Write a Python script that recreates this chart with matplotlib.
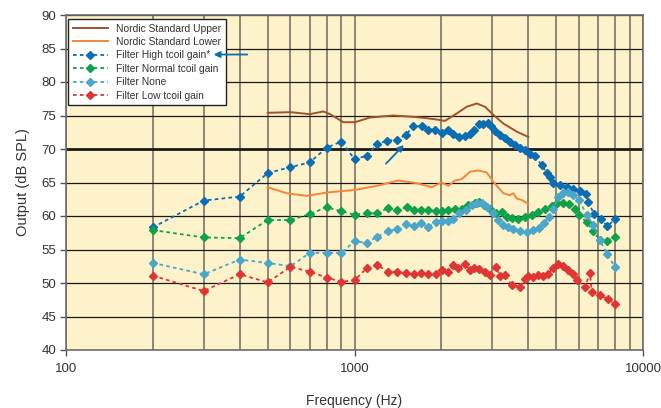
import matplotlib
matplotlib.use("Agg")
import matplotlib.pyplot as plt
from matplotlib.ticker import FixedLocator, NullFormatter

plt.rcParams['font.family'] = ['Liberation Sans', 'DejaVu Sans']

# Nordic standard limits
freq_upper = [500, 600, 700, 780, 823, 915, 1004, 1131, 1363, 1599, 1780, 1927, 2059,
              2261, 2448, 2652, 2834, 3028, 3280, 3649, 4003]
nordic_upper = [75.4, 75.5, 75.2, 75.6, 75.2, 74.0, 74.0, 74.7, 75.0, 74.8, 74.6, 74.4, 74.2,
                75.3, 76.3, 76.8, 76.3, 75.1, 73.8, 72.6, 71.8]

freq_lower = [500, 582, 683, 801, 1004, 1194, 1418, 1643, 1852, 2006, 2114, 2231, 2353,
              2514, 2686, 2873, 3028, 3280, 3459, 3552, 3649, 3799, 4003]
nordic_lower = [64.3, 63.4, 63.0, 63.5, 63.9, 64.5, 65.3, 64.9, 64.3, 65.0, 64.5, 65.3, 65.5,
                66.6, 66.8, 66.5, 65.1, 63.4, 63.1, 63.4, 62.6, 62.4, 61.8]

# measured filter responses
freq_high = [200, 300, 400, 500, 600, 700, 800, 900, 1000, 1108, 1200, 1299, 1401, 1505,
             1599, 1710, 1803, 1901, 2006, 2114, 2200, 2302, 2415, 2514, 2602, 2701, 2795,
             2894, 2972, 3069, 3194, 3323, 3459, 3600, 3748, 3899, 4058, 4223, 4456, 4637,
             4761, 4889, 5156, 5439, 5734, 6047, 6344, 6463, 6765, 7150, 7520, 8000]
filt_high = [58.3, 62.3, 62.9, 66.4, 67.3, 68.0, 70.2, 71.1, 68.5, 69.0, 70.8, 71.2, 71.4, 72.1,
             73.4, 73.4, 72.9, 72.9, 72.4, 72.8, 72.2, 71.8, 71.9, 72.2, 72.8, 73.7, 73.8,
             73.9, 73.4, 72.7, 72.1, 71.6, 71.1, 70.6, 70.2, 69.9, 69.3, 68.9, 67.6, 66.4,
             65.8, 64.9, 64.6, 64.4, 64.1, 63.8, 63.3, 62.1, 60.3, 59.5, 58.5, 59.5]

freq_normal = [200, 300, 400, 500, 600, 700, 800, 900, 1000, 1102, 1200, 1310, 1407, 1517,
               1608, 1700, 1803, 1912, 2016, 2114, 2231, 2353, 2480, 2617, 2708, 2811, 2949,
               3094, 3237, 3370, 3507, 3696, 3899, 4114, 4336, 4575, 4826, 5021, 5268, 5554,
               5811, 6015, 6379, 6726, 7096, 7484, 8000]
filt_normal = [57.9, 56.8, 56.7, 59.4, 59.4, 60.3, 61.3, 60.7, 60.2, 60.4, 60.4, 61.2, 60.9, 61.3,
               60.9, 60.9, 60.9, 60.7, 60.8, 60.9, 61.0, 61.1, 61.6, 62.0, 62.1, 61.6, 61.1,
               60.4, 60.6, 59.9, 59.7, 59.6, 59.8, 60.1, 60.6, 61.1, 61.5, 62.0, 61.9, 61.8,
               61.1, 60.1, 59.1, 57.7, 56.4, 56.3, 56.9]

freq_none = [200, 300, 400, 500, 600, 700, 800, 900, 1000, 1102, 1200, 1310, 1401, 1508,
             1608, 1700, 1803, 1912, 2016, 2114, 2200, 2308, 2435, 2548, 2652, 2760, 2873,
             3028, 3151, 3280, 3414, 3552, 3748, 3954, 4168, 4371, 4539, 4733, 4889, 5087,
             5268, 5508, 5734, 6015, 6379, 6726, 7096, 7484, 8000]
filt_none = [53.0, 51.3, 53.5, 53.0, 52.5, 54.5, 54.5, 54.5, 56.2, 56.0, 56.9, 57.8, 58.0, 58.8,
             58.5, 58.9, 58.4, 59.1, 59.3, 59.2, 59.5, 60.4, 60.9, 61.6, 62.0, 61.9, 61.4,
             60.4, 59.4, 58.7, 58.3, 58.0, 57.8, 57.6, 57.9, 58.2, 58.9, 59.9, 61.1, 62.9,
             63.5, 63.6, 63.1, 62.4, 60.1, 58.7, 56.4, 54.4, 52.4]

freq_low = [200, 300, 400, 500, 600, 700, 800, 900, 1000, 1102, 1195, 1310, 1401, 1508,
            1608, 1700, 1803, 1912, 2016, 2114, 2200, 2290, 2415, 2514, 2602, 2708, 2834,
            2949, 3094, 3194, 3323, 3507, 3748, 3899, 4003, 4168, 4336, 4513, 4697, 4889,
            5087, 5293, 5508, 5734, 5920, 6295, 6551, 6641, 7096, 7545, 8000]
filt_low = [51.1, 48.8, 51.3, 50.1, 52.4, 51.7, 50.8, 50.2, 50.4, 52.2, 52.7, 51.7, 51.6, 51.5,
            51.4, 51.5, 51.4, 51.4, 52.0, 51.7, 52.7, 52.2, 52.9, 51.9, 52.2, 52.1, 51.7,
            51.2, 52.4, 51.0, 51.2, 49.7, 49.4, 50.6, 51.0, 50.9, 51.2, 51.1, 51.4, 52.2,
            52.9, 52.5, 51.9, 51.4, 50.4, 49.4, 51.5, 48.7, 48.2, 47.6, 46.9]

x_major = [100, 1000, 10000]
x_minor = [200, 300, 400, 500, 600, 700, 800, 900,
           2000, 3000, 4000, 5000, 6000, 7000, 8000, 9000]
y_ticks = [40, 45, 50, 55, 60, 65, 70, 75, 80, 85, 90]

text_col = '#333333'

fig = plt.figure(figsize=(6.61, 4.08), dpi=100)
ax = fig.add_axes([66 / 661, 58 / 408, 577 / 661, 335 / 408])
ax.set_facecolor('#fdf2c9')

ax.set_xscale('log')
ax.set_xlim(100, 10000)
ax.set_ylim(40, 90)

# grid
for xv in x_minor + x_major:
    ax.axvline(xv, color='#7d7565', lw=1.2, zorder=1)
for yv in y_ticks:
    ax.axhline(yv, color='#1a1a1a', lw=2.0 if yv == 70 else 0.9, zorder=1)

ax.plot(freq_upper, nordic_upper, color='#a0522d', lw=1.4, zorder=3,
        label='Nordic Standard Upper')
ax.plot(freq_lower, nordic_lower, color='#f5853a', lw=1.4, zorder=3,
        label='Nordic Standard Lower')

series = [
    (freq_high, filt_high, '#0b6db3', 'Filter High tcoil gain*'),
    (freq_normal, filt_normal, '#0fa24a', 'Filter Normal tcoil gain'),
    (freq_none, filt_none, '#4ba6cc', 'Filter None'),
    (freq_low, filt_low, '#e03535', 'Filter Low tcoil gain'),
]
for fx, fy, col, lab in series:
    ax.plot(fx, fy, color=col, ls=(0, (2.0, 1.8)), lw=1.3, marker='D', ms=3.6,
            mec=col, mfc=col, zorder=4, label=lab)

ax.xaxis.set_major_locator(FixedLocator(x_major))
ax.xaxis.set_minor_locator(FixedLocator(x_minor))
ax.xaxis.set_minor_formatter(NullFormatter())
ax.set_xticklabels(['100', '1000', '10000'])
ax.set_yticks(y_ticks)
ax.tick_params(axis='both', which='major', length=4, width=1, color='#555555',
               labelsize=9.5, labelcolor=text_col, pad=3)
ax.tick_params(axis='x', which='major', pad=5)
ax.tick_params(axis='x', which='minor', length=0)
for sp in ax.spines.values():
    sp.set_color('#6e6e6e')
    sp.set_linewidth(1.2)

ax.set_xlabel('Frequency (Hz)', fontsize=10, color=text_col, labelpad=14)
ax.set_ylabel('Output (dB SPL)', fontsize=10.5, color=text_col, labelpad=8)

leg = ax.legend(loc='upper left', bbox_to_anchor=(0.004, 0.988), fontsize=7.4,
                frameon=True, fancybox=False, edgecolor='#222222', framealpha=1,
                numpoints=1, handlelength=3.4, labelspacing=0.33, borderpad=0.45,
                handletextpad=0.8, borderaxespad=0)
leg.get_frame().set_linewidth(1.0)
for t in leg.get_texts():
    t.set_color(text_col)
leg.set_zorder(6)

arrow = dict(arrowstyle='-|>', color='#0b6db3', lw=1.3, mutation_scale=9)
ax.annotate('', xy=(0.251, 0.882), xytext=(0.319, 0.882), xycoords='axes fraction',
            arrowprops=arrow, zorder=7)
ax.annotate('', xy=(1505, 70.9), xytext=(1266, 67.5), arrowprops=arrow, zorder=7)

fig.savefig('out.png', dpi=100)
